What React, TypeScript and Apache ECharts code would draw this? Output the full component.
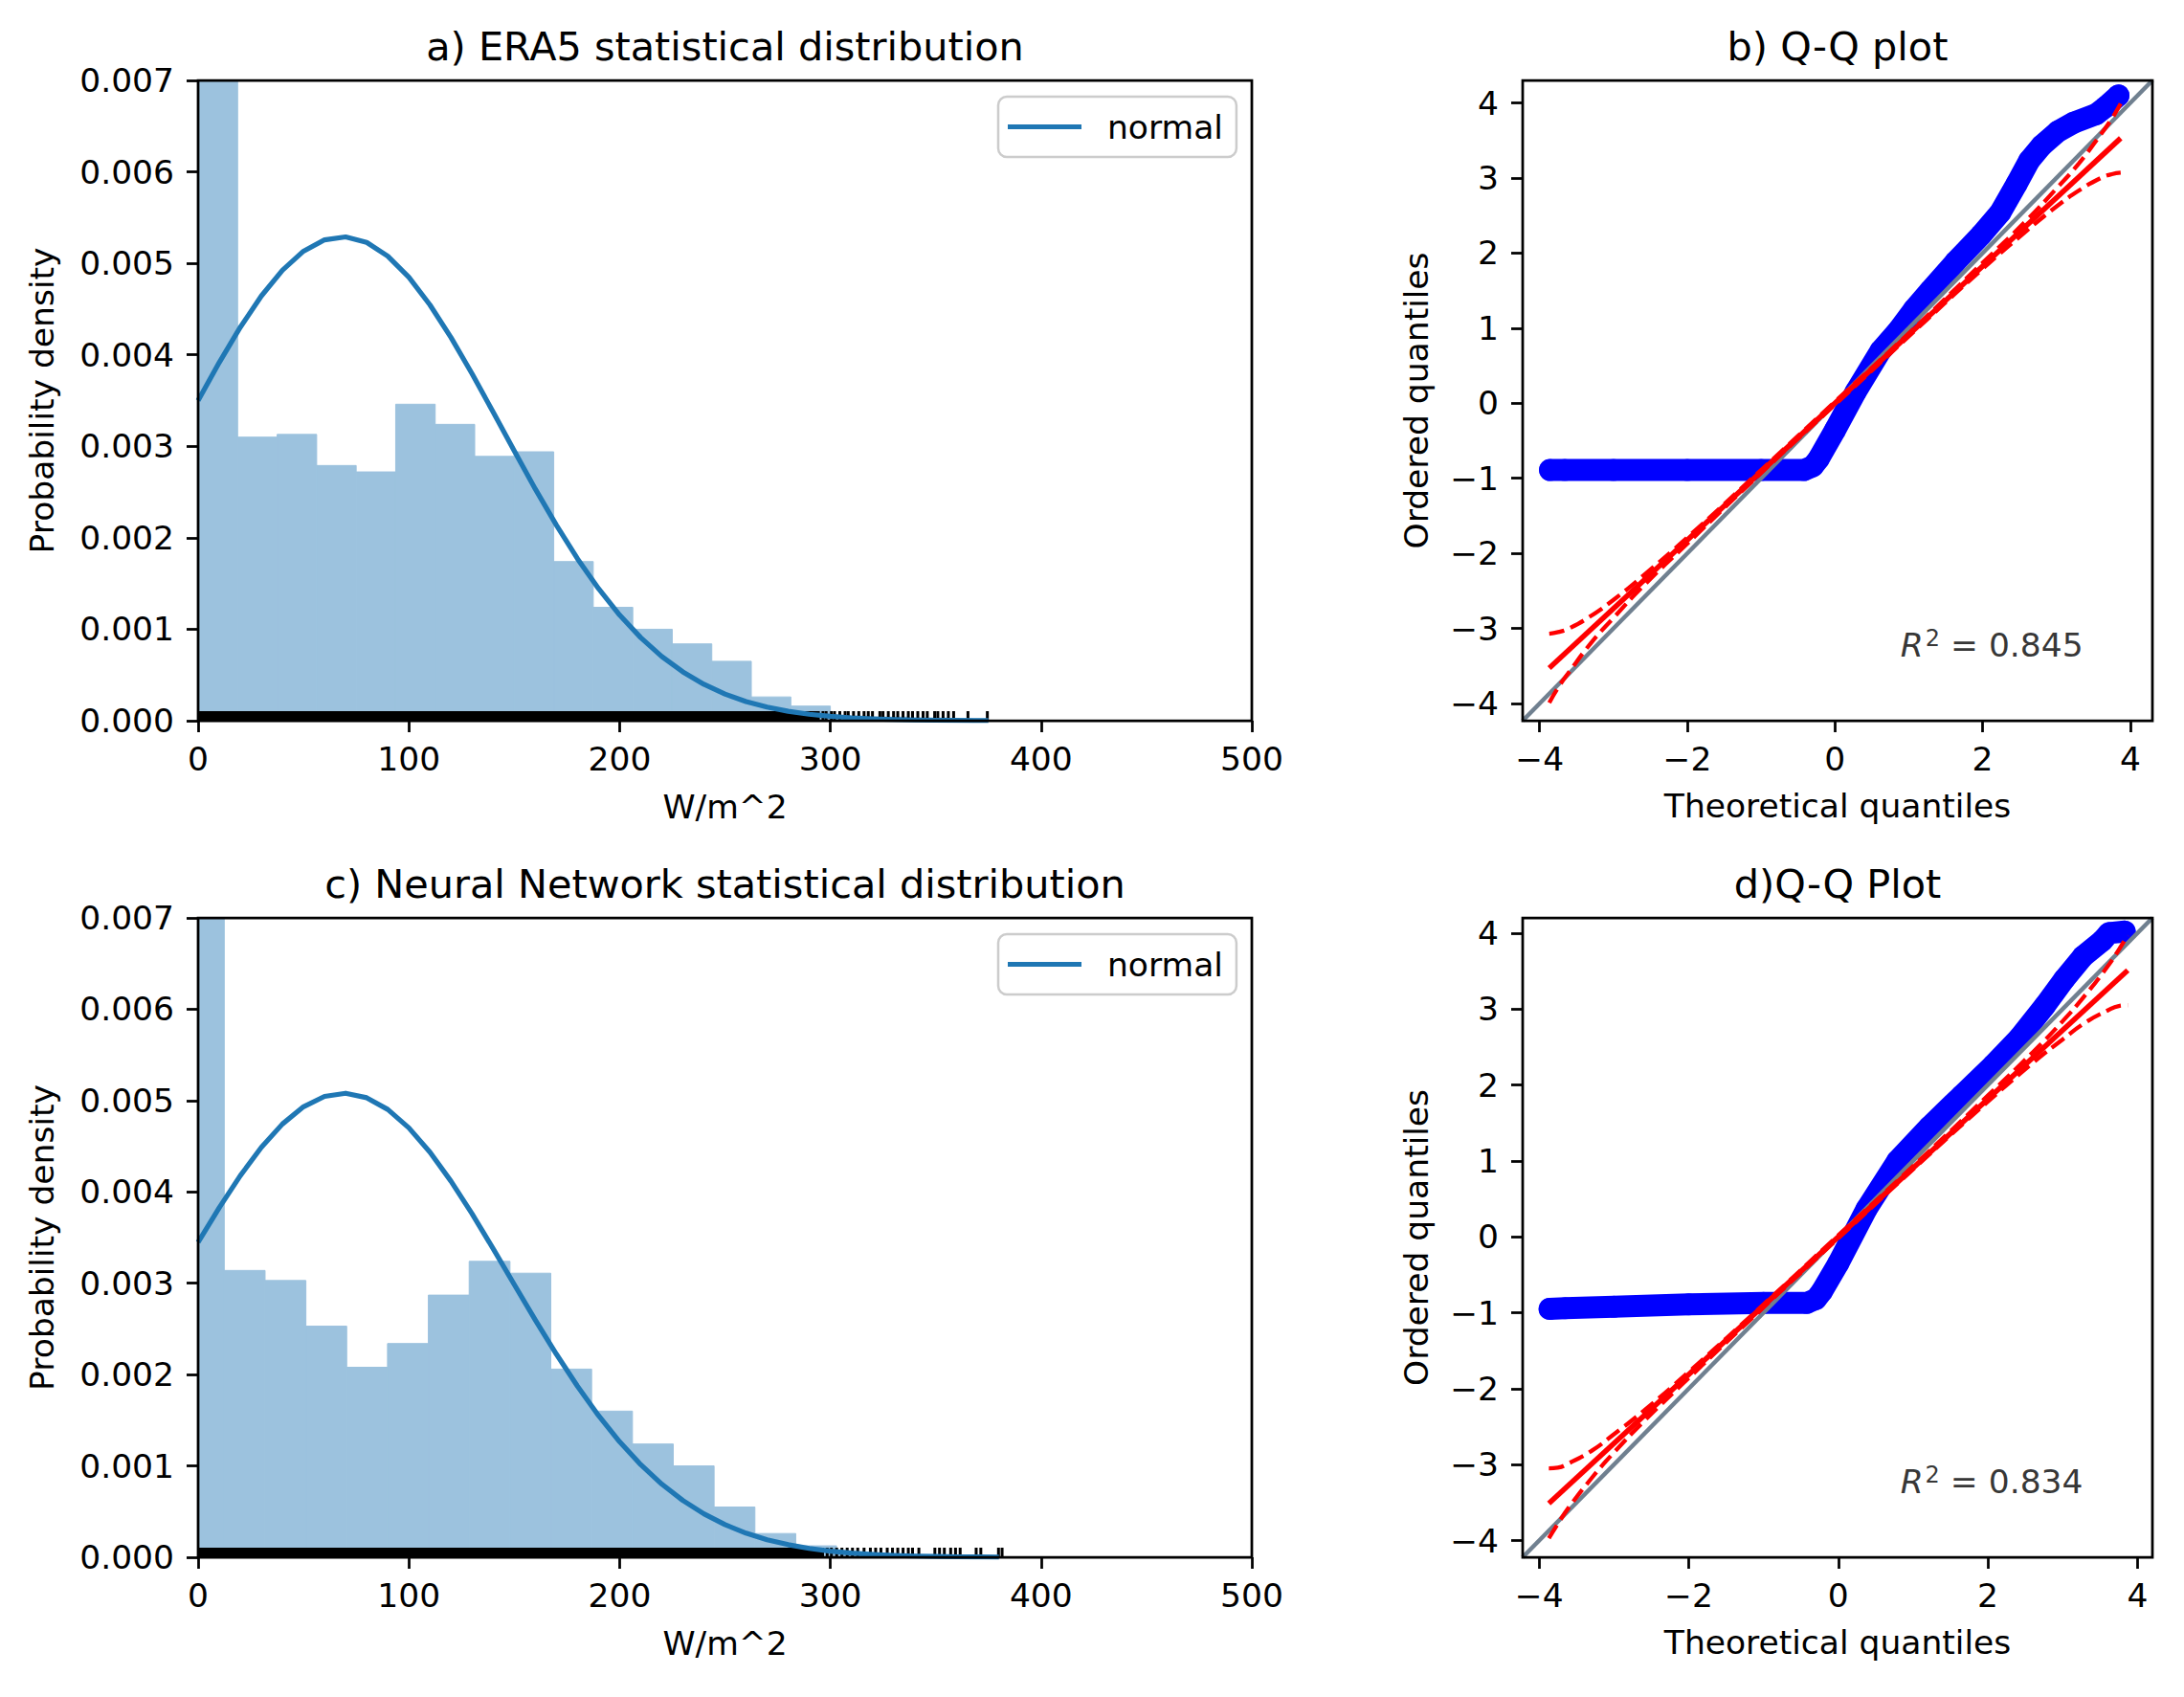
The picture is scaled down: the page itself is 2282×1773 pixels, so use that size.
import React, { useEffect, useRef } from 'react';
import * as echarts from 'echarts';

const FONT = '"DejaVu Sans", "Liberation Sans", sans-serif';
const FS = 34.5;
const TITLE_FS = 41.4;

// ---------- titles & labels ----------
const panelTitles = [
  'a) ERA5 statistical distribution',
  'b) Q-Q plot',
  'c) Neural Network statistical distribution',
  'd)Q-Q Plot',
];
const histXName = 'W/m^2';
const histYName = 'Probability density';
const qqXName = 'Theoretical quantiles';
const qqYName = 'Ordered quantiles';
const legendName = 'normal';

// ---------- histogram axes ----------
const histXRange = [0, 500];
const histXStep = 100;
const histYRange = [0, 0.007];
const histYStep = 0.001;

// ---------- ERA5 histogram (density) ----------
const eraBinEdges = [0, 18.75, 37.5, 56.25, 75, 93.75, 112.5, 131.25, 150, 168.75, 187.5, 206.25, 225, 243.75, 262.5, 281.25, 300, 318.75, 337.5, 356.25, 375];
const eraDensity = [0.023, 0.0031, 0.00313, 0.00279, 0.00272, 0.00346, 0.00324, 0.00289, 0.00294, 0.00174, 0.00124, 0.001, 0.00084, 0.00065, 0.00026, 0.00016, 0.00005, 0.00004, 0.00003, 0.00002];

// ---------- NN histogram (density) ----------
const nnBinEdges = [-6.97, 12.4, 31.77, 51.14, 70.51, 89.88, 109.25, 128.62, 147.99, 167.36, 186.73, 206.1, 225.47, 244.84, 264.21, 283.58, 302.95, 322.32, 341.69, 361.06, 380.43];
const nnDensity = [0.0224, 0.00314, 0.00303, 0.00253, 0.00208, 0.00234, 0.00287, 0.00324, 0.00311, 0.00206, 0.0016, 0.00124, 0.001, 0.00055, 0.00026, 0.000125, 0.00005, 0.00003, 0.00002, 0.00001];

// ---------- fitted normal curves (every 10 W/m^2) ----------
const eraNormalX = [0, 10, 20, 30, 40, 50, 60, 70, 80, 90, 100, 110, 120, 130, 140, 150, 160, 170, 180, 190, 200, 210, 220, 230, 240, 250, 260, 270, 280, 290, 300, 310, 320, 330, 340, 350, 360, 370, 375];
const eraNormalY = [0.003501, 0.003915, 0.004301, 0.004643, 0.004925, 0.005133, 0.005257, 0.005289, 0.005229, 0.005079, 0.004848, 0.004546, 0.004189, 0.003793, 0.003374, 0.00295, 0.002533, 0.002138, 0.001772, 0.001444, 0.001156, 0.000909, 0.000703, 0.000534, 0.000398, 0.000292, 0.00021, 0.000149, 0.000103, 0.0000707, 0.0000475, 0.0000313, 0.0000203, 0.0000129, 0.0000081, 0.000005, 0.000003, 0.0000018, 0.0000014];
const nnNormalX = [0, 10, 20, 30, 40, 50, 60, 70, 80, 90, 100, 110, 120, 130, 140, 150, 160, 170, 180, 190, 200, 210, 220, 230, 240, 250, 260, 270, 280, 290, 300, 310, 320, 330, 340, 350, 360, 370, 380];
const nnNormalY = [0.003448, 0.003826, 0.004177, 0.004487, 0.004743, 0.004932, 0.005046, 0.00508, 0.005031, 0.004903, 0.004701, 0.004435, 0.004117, 0.00376, 0.003378, 0.002987, 0.002598, 0.002224, 0.001873, 0.001551, 0.001265, 0.001015, 0.000801, 0.000622, 0.000475, 0.000357, 0.000264, 0.000192, 0.000138, 0.0000969, 0.0000671, 0.0000458, 0.0000307, 0.0000203, 0.0000132, 0.0000084, 0.0000053, 0.0000033, 0.000002];

// ---------- rug ----------
const eraRugDense = [0, 295];
const eraRugTicks = [296.5, 298, 300.5, 302, 304.5, 307, 308.5, 311, 313.5, 316, 318, 320, 323.5, 325, 327.5, 330, 332, 334.5, 337, 339, 341.5, 344, 346, 349.5, 351, 353.5, 356, 358.5, 365.3, 374.5];
const nnRugDense = [0, 297];
const nnRugTicks = [298.5, 300.5, 303, 305.5, 308, 310.5, 313, 316, 319, 321.5, 324, 327, 329.5, 332, 334.5, 337, 339, 342, 349.6, 351.8, 354.1, 357.1, 359.4, 361.6, 369.2, 371.4, 379.8, 381.5];

// ---------- Q-Q plots ----------
const qqLimB = [-4.23, 4.3];
const qqLimD = [-4.22, 4.2];
const qqTicksX = [-4, -2, 0, 2, 4];
const qqTicksY = [-4, -3, -2, -1, 0, 1, 2, 3, 4];

const qqEraPoints = [[-3.86, -0.89], [-3.66, -0.89], [-3.0, -0.89], [-2.0, -0.89], [-1.0, -0.89], [-0.42, -0.89], [-0.3, -0.84], [-0.22, -0.74], [0.0, -0.36], [0.28, 0.15], [0.62, 0.7], [0.86, 0.97], [1.07, 1.25], [1.29, 1.5], [1.63, 1.88], [1.98, 2.24], [2.24, 2.54], [2.46, 2.92], [2.63, 3.23], [2.8, 3.43], [3.02, 3.62], [3.24, 3.74], [3.54, 3.85], [3.67, 3.95], [3.84, 4.1]];
const qqNnPoints = [[-3.86, -0.95], [-3.65, -0.94], [-3.0, -0.92], [-2.0, -0.89], [-1.0, -0.87], [-0.42, -0.87], [-0.3, -0.82], [-0.22, -0.72], [0.0, -0.35], [0.38, 0.37], [0.79, 1.0], [1.22, 1.45], [1.65, 1.86], [2.07, 2.26], [2.42, 2.62], [2.76, 3.04], [3.02, 3.39], [3.27, 3.69], [3.53, 3.9], [3.62, 4.0], [3.83, 4.02]];

const qqFitB = [[-3.87, -3.53], [3.87, 3.53]];
const qqFitD = [[-3.87, -3.51], [3.87, 3.51]];

const envX = [-3.87, -3.75, -3.6, -3.3, -3.0, -2.6, -2.0, -1.0, 0, 1.0, 2.0, 2.6, 3.0, 3.3, 3.6, 3.75, 3.87];
const envUpperB = [-3.07, -3.05, -3.0, -2.83, -2.62, -2.3, -1.79, -0.89, 0.02, 0.93, 1.87, 2.44, 2.86, 3.19, 3.58, 3.79, 3.99];
const envLowerB = [-3.99, -3.79, -3.58, -3.19, -2.86, -2.44, -1.87, -0.93, -0.02, 0.89, 1.79, 2.3, 2.62, 2.83, 3.0, 3.05, 3.07];
const envUpperD = [-3.05, -3.04, -2.98, -2.82, -2.6, -2.29, -1.78, -0.89, 0.02, 0.93, 1.86, 2.43, 2.84, 3.18, 3.56, 3.78, 3.97];
const envLowerD = [-3.97, -3.78, -3.56, -3.18, -2.84, -2.43, -1.86, -0.93, -0.02, 0.89, 1.78, 2.29, 2.6, 2.82, 2.98, 3.04, 3.05];

const r2Texts = ['0.845', '0.834'];
const r2PosB = [0.888, -3.38];
const r2PosD = [0.83, -3.38];

// ---------- styles ----------
const HIST_COLOR = '#9cc2de';
const CURVE_COLOR = '#1f77b4';
const QQ_BLUE = '#0000ff';
const QQ_RED = '#ff0000';
const QQ_GREY = '#708090';
const SPINE = '#000000';

const histRows = (edges: number[], dens: number[]) => dens.map((d, i) => [edges[i], edges[i + 1], d]);
const pairs = (xs: number[], ys: number[]) => xs.map((x, i) => [x, ys[i]]);

const histRender = (params: any, api: any) => {
  const p0 = api.coord([api.value(0), api.value(2)]);
  const p1 = api.coord([api.value(1), 0]);
  const cs = params.coordSys;
  const shape = echarts.graphic.clipRectByRect(
    { x: p0[0], y: p0[1], width: p1[0] - p0[0], height: p1[1] - p0[1] },
    { x: cs.x, y: cs.y, width: cs.width, height: cs.height }
  );
  return shape ? { type: 'rect', shape, style: { fill: HIST_COLOR, stroke: HIST_COLOR, lineWidth: 1 } } : null;
};

const RUG_H = 10;
const rugBandRender = (params: any, api: any) => {
  const p0 = api.coord([api.value(0), 0]);
  const p1 = api.coord([api.value(1), 0]);
  return { type: 'rect', shape: { x: p0[0], y: p0[1] - RUG_H, width: p1[0] - p0[0], height: RUG_H }, style: { fill: '#000' } };
};
const rugTickRender = (params: any, api: any) => {
  const p = api.coord([api.value(0), 0]);
  return { type: 'line', shape: { x1: p[0], y1: p[1], x2: p[0], y2: p[1] - RUG_H }, style: { stroke: '#000', lineWidth: 3 } };
};

const labelStyle = { fontFamily: FONT, fontSize: FS, color: '#000' };
const tickStyle = { show: true, inside: false, length: 12, lineStyle: { color: SPINE, width: 2.75 } };
const minus = (v: number) => String(v).replace('-', '\u2212');

function histXAxis(gridIndex: number) {
  return {
    type: 'value', gridIndex, min: histXRange[0], max: histXRange[1], interval: histXStep,
    name: histXName, nameLocation: 'middle', nameGap: 72, nameTextStyle: labelStyle,
    axisLine: { show: false, onZero: false }, axisTick: tickStyle,
    axisLabel: { ...labelStyle, margin: 22 }, splitLine: { show: false },
  };
}
function histYAxis(gridIndex: number) {
  return {
    type: 'value', gridIndex, min: histYRange[0], max: histYRange[1], interval: histYStep,
    name: histYName, nameLocation: 'middle', nameGap: 146, nameTextStyle: labelStyle,
    axisLine: { show: false, onZero: false }, axisTick: tickStyle,
    axisLabel: { ...labelStyle, margin: 25, formatter: (v: number) => v.toFixed(3) }, splitLine: { show: false },
  };
}
function qqXAxis(gridIndex: number, lim: number[]) {
  return {
    type: 'value', gridIndex, min: lim[0], max: lim[1],
    name: qqXName, nameLocation: 'middle', nameGap: 71, nameTextStyle: labelStyle,
    axisLine: { show: false, onZero: false }, axisTick: { ...tickStyle, customValues: qqTicksX },
    axisLabel: { ...labelStyle, margin: 22, customValues: qqTicksX, formatter: minus }, splitLine: { show: false },
  };
}
function qqYAxis(gridIndex: number, lim: number[]) {
  return {
    type: 'value', gridIndex, min: lim[0], max: lim[1],
    name: qqYName, nameLocation: 'middle', nameGap: 94, nameTextStyle: labelStyle,
    axisLine: { show: false, onZero: false }, axisTick: { ...tickStyle, customValues: qqTicksY },
    axisLabel: { ...labelStyle, margin: 25, customValues: qqTicksY, formatter: minus }, splitLine: { show: false },
  };
}

function histSeries(axis: number, edges: number[], dens: number[], dense: number[], ticks: number[], nx: number[], ny: number[]) {
  return [
    { type: 'custom', xAxisIndex: axis, yAxisIndex: axis, renderItem: histRender, data: histRows(edges, dens), encode: { x: [0, 1], y: 2 }, silent: true },
    { type: 'custom', xAxisIndex: axis, yAxisIndex: axis, renderItem: rugBandRender, data: [[dense[0], dense[1]]], encode: { x: [0, 1] }, silent: true },
    { type: 'custom', xAxisIndex: axis, yAxisIndex: axis, renderItem: rugTickRender, data: ticks.map((t) => [t, 0]), encode: { x: 0, y: 1 }, silent: true },
    {
      type: 'line', name: legendName, xAxisIndex: axis, yAxisIndex: axis, data: pairs(nx, ny), smooth: false,
      symbol: 'none', color: CURVE_COLOR, lineStyle: { color: CURVE_COLOR, width: 5.2, join: 'round' }, clip: true, silent: true,
    },
  ];
}

function qqSeries(axis: number, pts: number[][], lim: number[], fit: number[][], up: number[], lo: number[], r2: string, r2pos: number[]) {
  const dashed = { color: QQ_RED, width: 4.3, type: [16, 7] };
  return [
    { type: 'line', xAxisIndex: axis, yAxisIndex: axis, data: pts, symbol: 'none', lineStyle: { color: QQ_BLUE, width: 23, cap: 'round', join: 'round' }, silent: true },
    { type: 'scatter', xAxisIndex: axis, yAxisIndex: axis, data: pts, symbolSize: 23, itemStyle: { color: QQ_BLUE }, silent: true },
    { type: 'line', xAxisIndex: axis, yAxisIndex: axis, data: [[lim[0], lim[0]], [lim[1], lim[1]]], symbol: 'none', lineStyle: { color: QQ_GREY, width: 4.5 }, silent: true },
    { type: 'line', xAxisIndex: axis, yAxisIndex: axis, data: fit, symbol: 'none', lineStyle: { color: QQ_RED, width: 5.5 }, silent: true },
    { type: 'line', xAxisIndex: axis, yAxisIndex: axis, data: pairs(envX, up), smooth: true, symbol: 'none', lineStyle: dashed, silent: true },
    { type: 'line', xAxisIndex: axis, yAxisIndex: axis, data: pairs(envX, lo), smooth: true, symbol: 'none', lineStyle: dashed, silent: true },
    {
      type: 'scatter', xAxisIndex: axis, yAxisIndex: axis, data: [r2pos], symbolSize: 0.01, itemStyle: { color: 'rgba(0,0,0,0)' }, silent: true,
      label: {
        show: true, position: 'right', distance: 0, offset: [0, -12],
        formatter: '{i|R}{s|2}{n| = ' + r2 + '}',
        rich: {
          i: { fontFamily: FONT, fontSize: FS, fontStyle: 'italic', color: '#000', lineHeight: 39 },
          s: { fontFamily: FONT, fontSize: 24, lineHeight: 24, verticalAlign: 'top', color: '#000', padding: [0, 0, 0, 2] },
          n: { fontFamily: FONT, fontSize: FS, color: '#000', lineHeight: 39 },
        },
      },
    },
  ];
}

function legendAt(top: number) {
  return {
    data: [{ name: legendName, icon: 'rect' }], left: 1043, top, orient: 'horizontal',
    itemWidth: 77, itemHeight: 5, padding: [14, 14, 14, 10],
    borderColor: '#cccccc', borderWidth: 2.5, borderRadius: 9, backgroundColor: '#ffffff',
    selectedMode: false, textStyle: { ...labelStyle, padding: [0, 0, 0, 22] },
  };
}

export default function App() {
  const ref = useRef<HTMLDivElement>(null);
  useEffect(() => {
    document.body.style.margin = '0';
    const chart = echarts.init(ref.current!, null, { renderer: 'svg' });
    const gridBase = { show: true, z: 10, borderColor: SPINE, borderWidth: 2.75, backgroundColor: 'transparent' };
    const titleStyle = (text: string) => ({ text, font: `${TITLE_FS}px ${FONT}`, fill: '#000', textAlign: 'center', textVerticalAlign: 'middle' });
    const option: any = {
      animation: false,
      backgroundColor: '#ffffff',
      textStyle: { fontFamily: FONT },
      grid: [
        { ...gridBase, left: 207, top: 84, width: 1101, height: 669 },
        { ...gridBase, left: 1591, top: 84, width: 658, height: 669 },
        { ...gridBase, left: 207, top: 959, width: 1101, height: 668 },
        { ...gridBase, left: 1591, top: 959, width: 658, height: 668 },
      ],
      xAxis: [histXAxis(0), qqXAxis(1, qqLimB), histXAxis(2), qqXAxis(3, qqLimD)],
      yAxis: [histYAxis(0), qqYAxis(1, qqLimB), histYAxis(2), qqYAxis(3, qqLimD)],
      legend: [legendAt(101), legendAt(976)],
      graphic: [
        { type: 'text', x: 757.5, y: 49, style: titleStyle(panelTitles[0]) },
        { type: 'text', x: 1920, y: 49, style: titleStyle(panelTitles[1]) },
        { type: 'text', x: 757.5, y: 924, style: titleStyle(panelTitles[2]) },
        { type: 'text', x: 1920, y: 924, style: titleStyle(panelTitles[3]) },
      ],
      series: [
        ...histSeries(0, eraBinEdges, eraDensity, eraRugDense, eraRugTicks, eraNormalX, eraNormalY),
        ...qqSeries(1, qqEraPoints, qqLimB, qqFitB, envUpperB, envLowerB, r2Texts[0], r2PosB),
        ...histSeries(2, nnBinEdges, nnDensity, nnRugDense, nnRugTicks, nnNormalX, nnNormalY),
        ...qqSeries(3, qqNnPoints, qqLimD, qqFitD, envUpperD, envLowerD, r2Texts[1], r2PosD),
      ],
    };
    chart.setOption(option);
    return () => chart.dispose();
  }, []);
  return <div ref={ref} style={{ position: 'absolute', left: 0, top: 0, width: 2282, height: 1773, background: '#fff' }} />;
}
